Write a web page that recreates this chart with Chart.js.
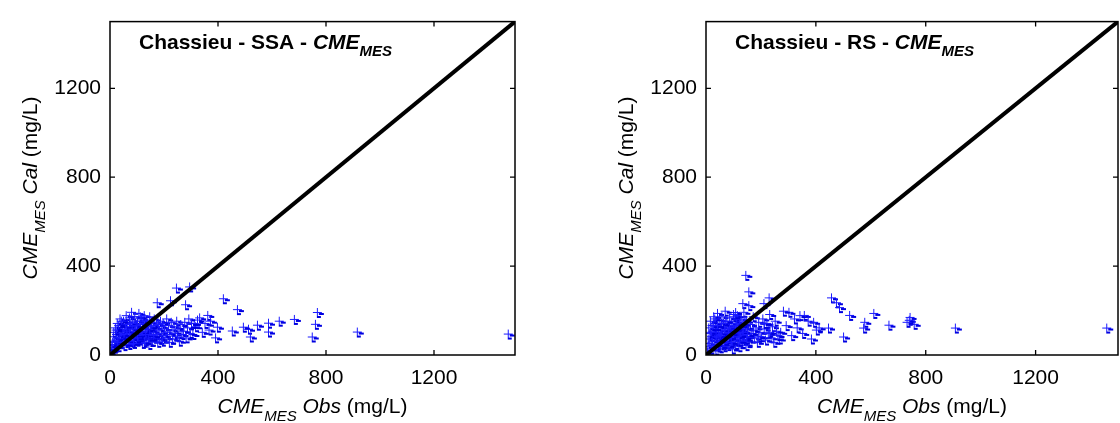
<!DOCTYPE html>
<html>
<head>
<meta charset="utf-8">
<script src="https://cdn.jsdelivr.net/npm/chart.js@4/dist/chart.umd.min.js"></script>
<style>
  html, body { margin: 0; padding: 0; background: #fff; overflow: hidden; }
  body { width: 1120px; height: 423px; position: relative; }
  canvas { position: absolute; top: 0; }
  #ssa { left: 0; }
  #rs { left: 560px; }
</style>
</head>
<body>
<canvas id="ssa" width="560" height="423"></canvas>
<canvas id="rs" width="570" height="423"></canvas>
<script>
// axis ticks (same on both plots)
const tickValues = [0, 400, 800, 1200];

// Chassieu - SSA : observed vs calculated CME_MES (mg/L)
const ssaObs = [
  244, 293, 173, 222, 278, 418, 470, 766, 759, 747, 681, 625, 585, 585, 544, 511, 518, 492, 451, 396, 389, 914, 1473,
  350, 360, 365, 370, 340, 330, 315, 322, 305, 310,
  5, 8, 10, 12, 15, 18, 20, 22, 25, 28, 30, 32, 35, 38, 40, 42, 45, 48, 50, 52, 55, 58, 60, 62, 65, 68, 70, 72, 75, 78,
  80, 82, 85, 88, 90, 92, 95, 98, 100, 102, 105, 108, 110, 112, 115, 118, 120, 122, 125, 128, 130, 132, 135, 138, 140,
  142, 145, 148, 150, 152, 155, 158, 160, 162, 165, 168, 170, 172, 175, 178, 180, 182, 185, 188, 190, 192, 195, 198, 200,
  205, 208, 210, 215, 218, 220, 225, 228, 230, 235, 240, 245, 248, 250, 255, 260, 265, 270, 275, 280, 285, 290, 295, 300,
  3, 6, 2, 15, 25, 35, 45, 55, 65, 75, 85, 95, 105, 115, 125, 135, 145, 20, 30, 40, 50, 60, 70, 80, 90, 100, 110, 120,
  130, 140, 150, 160
];
const ssaCal = [
  299, 304, 233, 242, 224, 251, 202, 189, 136, 79, 158, 150, 141, 101, 132, 114, 79, 123, 106, 123, 75, 101, 92,
  140, 176, 110, 150, 100, 165, 125, 155, 90, 140,
  30, 55, 80, 100, 45, 120, 65, 90, 140, 35, 110, 75, 160, 50, 95, 130, 70, 150, 40, 115, 85, 175, 60, 135, 100, 45, 165, 120, 80, 190,
  55, 145, 105, 70, 170, 125, 90, 60, 150, 110, 185, 75, 135, 95, 160, 50, 120, 85, 175, 105, 140, 65, 155, 95, 125,
  45, 170, 110, 80, 140, 60, 130, 100, 160, 75, 120, 145, 90, 55, 135, 110, 70, 150, 95, 125, 60, 140, 85, 115,
  75, 160, 100, 130, 55, 90, 145, 110, 70, 125, 95, 150, 80, 115, 60, 135, 90, 105, 145, 75, 120, 160, 95, 140,
  15, 20, 40, 60, 55, 85, 110, 125, 60, 140, 50, 130, 65, 100, 55, 115, 90, 110, 130, 150, 90, 105, 95, 115, 85, 75, 170, 150,
  90, 70, 125, 85
];

// Chassieu - RS
const rsObs = [
  143, 154, 228, 209, 132, 154, 106, 455, 473, 484, 521, 609, 576, 572, 664, 738, 741, 756, 730, 906, 1457, 499, 444, 400,
  382, 356, 370, 390, 410, 340, 320, 300, 290, 280, 270, 265, 310, 330, 350,
  3, 5, 6, 8, 10, 12, 14, 16, 18, 20, 22, 24, 26, 28, 30, 32, 34, 36, 38, 40, 42, 44, 46, 48, 50, 52, 54, 56, 58, 60,
  62, 64, 66, 68, 70, 72, 74, 76, 78, 80, 82, 84, 86, 88, 90, 92, 94, 96, 98, 100, 102, 104, 106, 108, 110, 112, 114,
  116, 118, 120, 122, 124, 126, 128, 130, 132, 134, 136, 138, 140, 142, 144, 146, 148, 150, 155, 160, 165, 170, 175,
  180, 185, 190, 195, 200, 205, 210, 215, 220, 225, 230, 235, 240, 245, 250, 255, 260,
  15, 25, 35, 45, 55, 65, 75, 85, 95, 105, 115, 125, 135, 145, 20, 30, 40, 50, 60, 70, 80, 90, 100, 110, 120, 130, 140,
  150, 170, 190, 210, 230
];
const rsCal = [
  356, 282, 255, 229, 229, 220, 189, 255, 233, 211, 176, 185, 145, 119, 132, 154, 167, 136, 145, 119, 119, 79, 119, 110,
  70, 176, 150, 145, 120, 175, 160, 190, 130, 195, 100, 70, 85, 120, 95,
  10, 35, 70, 120, 50, 95, 150, 25, 80, 130, 60, 105, 170, 40, 90, 140, 20, 115, 65, 185, 45, 100, 155, 75, 30, 125, 90, 170, 55, 110,
  140, 35, 80, 195, 120, 60, 150, 95, 40, 130, 75, 165, 105, 50, 140, 85, 25, 120, 180, 65, 100, 150, 45, 130, 85, 175, 60,
  115, 35, 140, 95, 70, 160, 110, 50, 130, 85, 190, 65, 120, 100, 40, 150, 80, 115, 60, 135, 95, 170, 75,
  120, 55, 145, 100, 80, 160, 115, 65, 140, 95, 180, 75, 125, 55, 150, 105, 85,
  100, 130, 80, 60, 140, 110, 70, 120, 90, 110, 80, 130, 100, 70, 40, 160, 130, 85, 50, 150, 100, 55, 170, 140, 60, 100, 155,
  90, 110, 80, 140, 100
];

const FONT = '"Liberation Sans", Arial, sans-serif';

// "+" marker with the little dark smear the original export has
function plusMark() {
  const c = document.createElement('canvas');
  c.width = 16; c.height = 14;
  const g = c.getContext('2d');
  g.fillStyle = '#1a1aff';
  g.fillRect(4, 6, 9, 1);
  g.fillRect(8, 2, 1, 9);
  g.fillStyle = '#0000e0';
  g.fillRect(10, 7, 5, 2);
  g.fillRect(8, 10, 4, 2);
  return c;
}
const mark = plusMark();

function drawRich(ctx, parts, x, y, align) {
  let w = 0;
  parts.forEach(p => { ctx.font = p.font; w += ctx.measureText(p.text).width; });
  let cx = align === 'center' ? x - w / 2 : x;
  parts.forEach(p => {
    ctx.font = p.font;
    ctx.fillText(p.text, cx, y + (p.dy || 0));
    cx += ctx.measureText(p.text).width;
  });
}

// frame with inward ticks on all four sides + axis titles + inner title
const decor = {
  id: 'decor',
  afterDraw(chart, args, opts) {
    const { ctx, chartArea: a, scales: { x, y } } = chart;
    ctx.save();
    ctx.strokeStyle = '#000';
    ctx.lineWidth = 1.5;
    ctx.strokeRect(a.left, a.top, a.right - a.left, a.bottom - a.top);
    ctx.lineWidth = 1.3;
    ctx.beginPath();
    tickValues.forEach(v => {
      if (v === 0) return;
      const px = x.getPixelForValue(v), py = y.getPixelForValue(v);
      ctx.moveTo(px, a.bottom); ctx.lineTo(px, a.bottom - 5);
      ctx.moveTo(px, a.top); ctx.lineTo(px, a.top + 5);
      ctx.moveTo(a.left, py); ctx.lineTo(a.left + 5, py);
      ctx.moveTo(a.right, py); ctx.lineTo(a.right - 5, py);
    });
    ctx.stroke();

    ctx.fillStyle = '#000';
    ctx.textBaseline = 'alphabetic';
    ctx.textAlign = 'left';
    // inner title
    drawRich(ctx, [
      { text: 'Chassieu - ' + opts.site + ' - ', font: 'bold 21px ' + FONT },
      { text: 'CME', font: 'italic bold 21px ' + FONT },
      { text: 'MES', font: 'italic bold 15px ' + FONT, dy: 7 }
    ], a.left + 29, 49, 'left');
    // x title
    drawRich(ctx, [
      { text: 'CME', font: 'italic 21px ' + FONT },
      { text: 'MES', font: 'italic 15px ' + FONT, dy: 8 },
      { text: ' Obs', font: 'italic 21px ' + FONT },
      { text: ' (mg/L)', font: '21px ' + FONT }
    ], (a.left + a.right) / 2, 413, 'center');
    // y title
    ctx.translate(a.left - 73, 188);
    ctx.rotate(-Math.PI / 2);
    drawRich(ctx, [
      { text: 'CME', font: 'italic 21px ' + FONT },
      { text: 'MES', font: 'italic 15px ' + FONT, dy: 8 },
      { text: ' Cal', font: 'italic 21px ' + FONT },
      { text: ' (mg/L)', font: '21px ' + FONT }
    ], 0, 0, 'center');
    ctx.restore();
  }
};

function makeChart(id, site, obs, cal, yAxisWidth, padRight) {
  const pts = obs.map((v, i) => ({ x: v, y: cal[i] }));
  const tickOpts = {
    padding: 10, color: '#000', font: { family: FONT, size: 21 },
    callback: v => String(v)
  };
  return new Chart(document.getElementById(id), {
    type: 'scatter',
    data: {
      datasets: [
        {
          type: 'line',
          data: [{ x: 0, y: 0 }, { x: 1500, y: 1500 }],
          borderColor: '#000',
          borderWidth: 4,
          pointRadius: 0,
          order: 0
        },
        {
          data: pts,
          pointStyle: mark,
          pointRadius: 5,
          order: 1
        }
      ]
    },
    options: {
      responsive: false,
      animation: false,
      events: [],
      layout: { padding: { left: 0, right: padRight, top: 14, bottom: 0 } },
      plugins: { legend: { display: false }, tooltip: { enabled: false }, decor: { site: site } },
      scales: {
        x: {
          type: 'linear', min: 0, max: 1500,
          grid: { display: false, drawTicks: false },
          border: { display: false },
          ticks: Object.assign({}, tickOpts, { padding: 11 }),
          afterBuildTicks: s => { s.ticks = tickValues.map(v => ({ value: v })); },
          afterFit: s => { s.height = 68; }
        },
        y: {
          type: 'linear', min: 0, max: 1500,
          grid: { display: false, drawTicks: false },
          border: { display: false },
          ticks: Object.assign({}, tickOpts, { padding: 9 }),
          afterBuildTicks: s => { s.ticks = tickValues.map(v => ({ value: v })); },
          afterFit: s => { s.width = yAxisWidth; }
        }
      }
    },
    plugins: [decor]
  });
}

makeChart('ssa', 'SSA', ssaObs, ssaCal, 110, 45);
makeChart('rs', 'RS', rsObs, rsCal, 146, 12);
</script>
</body>
</html>
